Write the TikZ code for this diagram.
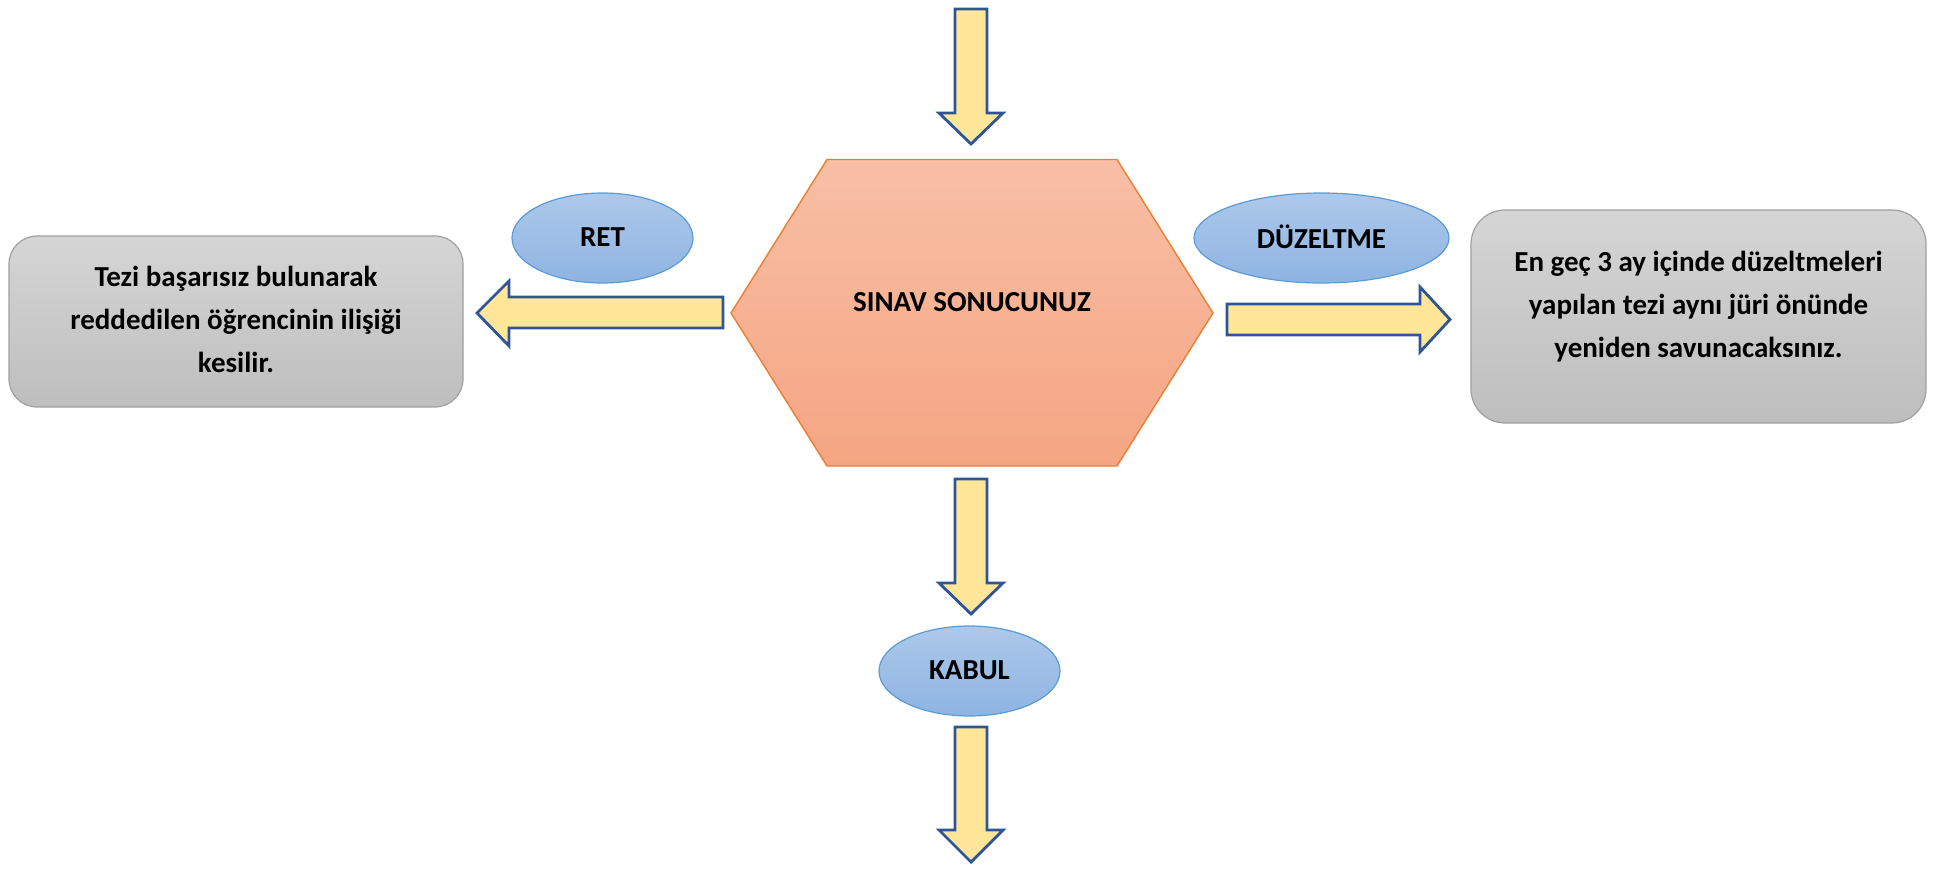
\documentclass[tikz,border=0pt]{standalone}
\usepackage{fontspec}
\setmainfont{Carlito}
\usetikzlibrary{shapes.geometric}
\definecolor{arrowfill}{HTML}{FFE699}
\definecolor{arrowline}{HTML}{2F5597}
\definecolor{hexTop}{HTML}{F8BFA6}
\definecolor{hexBot}{HTML}{F5A582}
\definecolor{hexLine}{HTML}{ED7D31}
\definecolor{ovalTop}{HTML}{ADC8EA}
\definecolor{ovalBot}{HTML}{8EB4E2}
\definecolor{ovalLine}{HTML}{5B9BD5}
\definecolor{boxTop}{HTML}{D5D5D5}
\definecolor{boxBot}{HTML}{BEBEBE}
\definecolor{boxLine}{HTML}{A0A0A0}
\begin{document}
\begin{tikzpicture}[x=1pt,y=-1pt,
  blockarrow/.style={fill=arrowfill, draw=arrowline, line width=2.8pt, line join=miter},
  hexa/.style={top color=hexTop, bottom color=hexBot, draw=hexLine, line width=1.4pt},
  oval/.style={ellipse, top color=ovalTop, bottom color=ovalBot, draw=ovalLine, line width=1.2pt, inner sep=0pt},
  graybox/.style={rectangle, top color=boxTop, bottom color=boxBot, draw=boxLine, line width=1.2pt, inner sep=0pt},
  lbl/.style={font=\fontsize{29}{43}\selectfont\bfseries, align=center, text=black, inner sep=0pt}]
\useasboundingbox (0,0) rectangle (1938,869);
% hexagon
\path[hexa] (731,313) -- (827,159.5) -- (1117,159.5) -- (1213,313) -- (1117,466) -- (827,466) -- cycle;
\node[lbl] (sinav) at (972,302) {SINAV SONUCUNUZ};
% ovals
\node[oval, minimum width=181pt, minimum height=90pt] (ret) at (602.5,238) {};
\node[lbl] (rett) at (602.5,237) {RET};
\node[oval, minimum width=255pt, minimum height=90pt] (duz) at (1321.5,238) {};
\node[lbl] (duzt) at (1321.5,237) {DÜZELTME};
\node[oval, minimum width=181pt, minimum height=90pt] (kabul) at (969.5,671) {};
\node[lbl] (kabult) at (969.5,670) {KABUL};
% boxes
\node[graybox, rounded corners=28pt, minimum width=454pt, minimum height=171pt] (lbox) at (236,321.5) {};
\node[lbl] (lboxt) at (236,319) {Tezi başarısız bulunarak\\reddedilen öğrencinin ilişiği\\kesilir.};
\node[graybox, rounded corners=34pt, minimum width=455pt, minimum height=213pt] (rbox) at (1698.5,316.5) {};
\node[lbl] (rboxt) at (1698.5,307) {En geç 3 ay içinde düzeltmeleri\\yapılan tezi aynı jüri önünde\\yeniden savunacaksınız.};
% arrows
\path[blockarrow] (955,9) -- (987,9) -- (987,113) -- (1003,113) -- (971,144) -- (939,113) -- (955,113) -- cycle;
\path[blockarrow] (955,479) -- (987,479) -- (987,583) -- (1003,583) -- (971,614) -- (939,583) -- (955,583) -- cycle;
\path[blockarrow] (955,727) -- (987,727) -- (987,830) -- (1003,830) -- (971,862) -- (939,830) -- (955,830) -- cycle;
\path[blockarrow] (723,297) -- (723,328) -- (509,328) -- (509,346) -- (477,313) -- (509,281) -- (509,297) -- cycle;
\path[blockarrow] (1227,304) -- (1420,304) -- (1420,287) -- (1450,319.5) -- (1420,352) -- (1420,335) -- (1227,335) -- cycle;
\end{tikzpicture}
\end{document}
